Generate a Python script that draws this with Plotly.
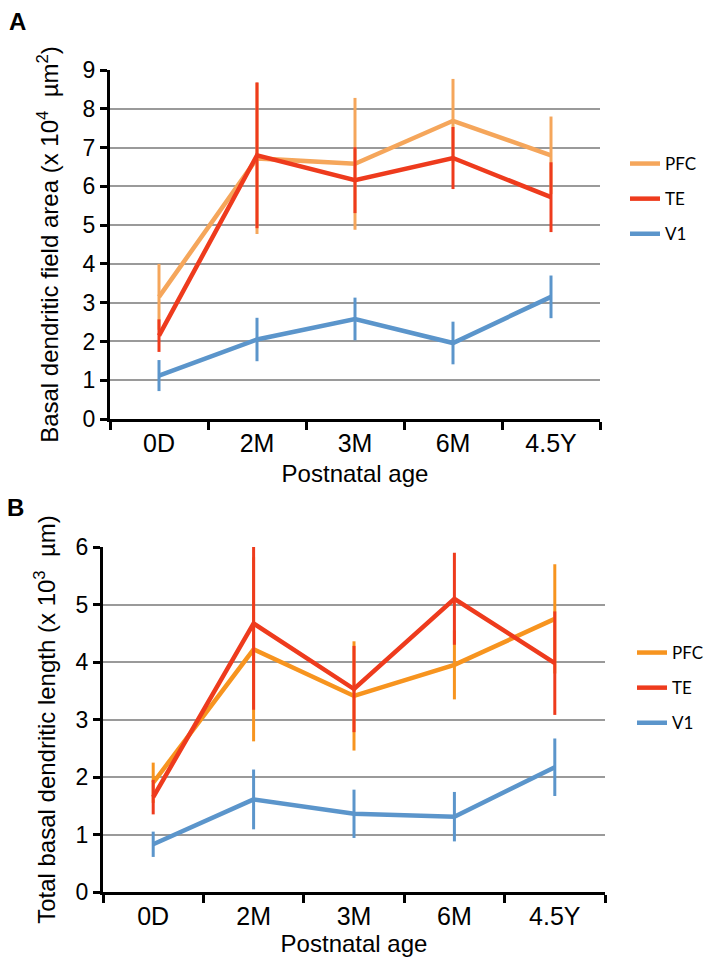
import plotly.graph_objects as go

ages = ["0D", "2M", "3M", "6M", "4.5Y"]
series_names = ["PFC", "TE", "V1"]

# Panel A: basal dendritic field area (x 10^4 um^2)
area_pfc = [3.15, 6.72, 6.58, 7.69, 6.80]
area_pfc_err = [0.85, 1.95, 1.70, 1.08, 1.00]
area_te = [2.15, 6.80, 6.16, 6.73, 5.72]
area_te_err = [0.42, 1.88, 0.85, 0.80, 0.90]
area_v1 = [1.12, 2.05, 2.58, 1.96, 3.15]
area_v1_err = [0.40, 0.56, 0.55, 0.55, 0.55]

# Panel B: total basal dendritic length (x 10^3 um)
len_pfc = [1.90, 4.22, 3.41, 3.95, 4.75]
len_pfc_err = [0.35, 1.60, 0.95, 0.60, 0.95]
len_te = [1.65, 4.67, 3.53, 5.10, 3.98]
len_te_err = [0.30, 1.50, 0.75, 0.80, 0.90]
len_v1 = [0.83, 1.61, 1.36, 1.31, 2.17]
len_v1_err = [0.22, 0.52, 0.42, 0.43, 0.50]

colors_a = {"PFC": "#F5A65B", "TE": "#EE3B1D", "V1": "#5B95CB"}
colors_b = {"PFC": "#F7941F", "TE": "#EE3B1D", "V1": "#5B95CB"}

W, H = 708, 968


def px(xs):
    return xs / W


def py(ys):
    return (H - ys) / H


fig = go.Figure()


def add(name, vals, errs, color, xa, ya, legend, grp):
    fig.add_trace(go.Scatter(
        x=ages, y=vals, name=name, mode="lines",
        line=dict(color=color, width=4.5),
        error_y=dict(type="data", array=errs, visible=True, color=color,
                     thickness=3, width=0),
        xaxis=xa, yaxis=ya, legend=legend, legendgroup=grp,
    ))


for name, v, e in zip(series_names, [area_pfc, area_te, area_v1],
                      [area_pfc_err, area_te_err, area_v1_err]):
    add(name, v, e, colors_a[name], "x", "y", "legend", "a" + name)
for name, v, e in zip(series_names, [len_pfc, len_te, len_v1],
                      [len_pfc_err, len_te_err, len_v1_err]):
    add(name, v, e, colors_b[name], "x2", "y2", "legend2", "b" + name)

font_fam = "Liberation Sans, Arial, sans-serif"
xcommon = dict(type="category", range=[-0.5, 4.5], showline=True, linecolor="black",
               linewidth=3, ticks="outside", ticklen=8, tickwidth=3, tickcolor="black",
               tickson="boundaries", showgrid=False, zeroline=False, automargin=False,
               tickfont=dict(size=25, color="black", family=font_fam))
ycommon = dict(showline=True, linecolor="black", linewidth=3, ticks="outside",
               ticklen=7, tickwidth=3, tickcolor="black", dtick=1, automargin=False,
               showgrid=True, gridcolor="#9a9a9a", gridwidth=2, zeroline=False,
               tickfont=dict(size=23, color="black", family=font_fam))
title_font = dict(size=24, color="black", family=font_fam)
legfont = dict(size=17, color="black", family="Lato, sans-serif")

fig.update_layout(
    width=W, height=H, margin=dict(l=0, r=0, t=0, b=0, autoexpand=False),
    paper_bgcolor="white", plot_bgcolor="white", font=dict(family=font_fam),
    xaxis=dict(domain=[px(110), px(600)], anchor="y",
               title=dict(text="Postnatal age", font=title_font, standoff=10), **xcommon),
    yaxis=dict(domain=[py(419), py(70)], anchor="x", range=[0, 9],
               title=dict(text="Basal dendritic field area (x 10<sup>4</sup>  µm<sup>2</sup>)",
                          font=title_font, standoff=18),
               **ycommon),
    xaxis2=dict(domain=[px(103), px(605)], anchor="y2",
                title=dict(text="Postnatal age", font=title_font, standoff=4), **xcommon),
    yaxis2=dict(domain=[py(892), py(547)], anchor="x2", range=[0, 6],
                title=dict(text="Total basal dendritic length (x 10<sup>3</sup>  µm)",
                           font=title_font, standoff=14),
                **ycommon),
    legend=dict(x=px(625), y=py(146), xanchor="left", yanchor="top", font=legfont,
                tracegroupgap=10, bgcolor="rgba(0,0,0,0)"),
    legend2=dict(x=px(632), y=py(635), xanchor="left", yanchor="top", font=legfont,
                 tracegroupgap=10, bgcolor="rgba(0,0,0,0)"),
    annotations=[
        dict(text="<b>A</b>", x=px(7), y=py(21), xref="paper", yref="paper",
             xanchor="left", yanchor="middle", showarrow=False,
             font=dict(size=24, color="black", family=font_fam)),
        dict(text="<b>B</b>", x=px(5), y=py(508), xref="paper", yref="paper",
             xanchor="left", yanchor="middle", showarrow=False,
             font=dict(size=24, color="black", family=font_fam)),
    ],
)

fig.write_html("out.html", config={"displayModeBar": False},
               post_script="document.body.style.margin='0';document.body.style.overflow='hidden';")
